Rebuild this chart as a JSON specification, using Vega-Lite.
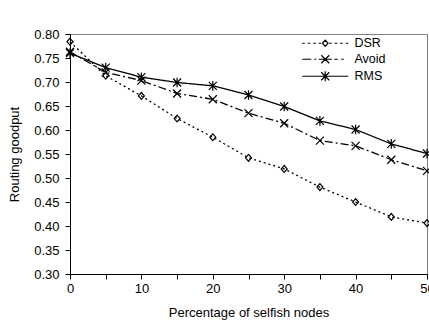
{
  "$schema": "https://vega.github.io/schema/vega-lite/v6.json",
  "width": 357,
  "height": 240,
  "autosize": {"type": "none"},
  "padding": {"left": 70, "top": 34, "right": 2, "bottom": 55},
  "background": "white",
  "config": {
    "view": {"stroke": "#808080", "strokeWidth": 1},
    "font": "Liberation Sans",
    "axis": {
      "domainColor": "black", "tickColor": "black", "labelColor": "black", "titleColor": "black",
      "labelFont": "Liberation Sans", "titleFont": "Liberation Sans",
      "labelFontSize": 13, "titleFontSize": 13, "titleFontWeight": "normal",
      "grid": false, "tickSize": 5, "domainWidth": 1, "tickWidth": 1
    }
  },
  "datasets": {
    "main": [
      {"series": "DSR", "x": 0, "y": 0.784}, {"series": "DSR", "x": 5, "y": 0.713}, {"series": "DSR", "x": 10, "y": 0.671},
      {"series": "DSR", "x": 15, "y": 0.624}, {"series": "DSR", "x": 20, "y": 0.585}, {"series": "DSR", "x": 25, "y": 0.542},
      {"series": "DSR", "x": 30, "y": 0.519}, {"series": "DSR", "x": 35, "y": 0.481}, {"series": "DSR", "x": 40, "y": 0.450},
      {"series": "DSR", "x": 45, "y": 0.419}, {"series": "DSR", "x": 50, "y": 0.406},
      {"series": "Avoid", "x": 0, "y": 0.763}, {"series": "Avoid", "x": 5, "y": 0.720}, {"series": "Avoid", "x": 10, "y": 0.703},
      {"series": "Avoid", "x": 15, "y": 0.676}, {"series": "Avoid", "x": 20, "y": 0.664}, {"series": "Avoid", "x": 25, "y": 0.635},
      {"series": "Avoid", "x": 30, "y": 0.614}, {"series": "Avoid", "x": 35, "y": 0.578}, {"series": "Avoid", "x": 40, "y": 0.567},
      {"series": "Avoid", "x": 45, "y": 0.538}, {"series": "Avoid", "x": 50, "y": 0.515},
      {"series": "RMS", "x": 0, "y": 0.760}, {"series": "RMS", "x": 5, "y": 0.730}, {"series": "RMS", "x": 10, "y": 0.710},
      {"series": "RMS", "x": 15, "y": 0.699}, {"series": "RMS", "x": 20, "y": 0.692}, {"series": "RMS", "x": 25, "y": 0.673},
      {"series": "RMS", "x": 30, "y": 0.649}, {"series": "RMS", "x": 35, "y": 0.619}, {"series": "RMS", "x": 40, "y": 0.601},
      {"series": "RMS", "x": 45, "y": 0.571}, {"series": "RMS", "x": 50, "y": 0.551}
    ],
    "legendkeys": [{"label": "DSR"}, {"label": "Avoid"}, {"label": "RMS"}]
  },
  "data": {"name": "main"},
  "encoding": {
    "x": {"field": "x", "type": "quantitative", "scale": {"domain": [0, 50], "nice": false},
      "axis": {"title": "Percentage of selfish nodes", "values": [0,5,10,15,20,25,30,35,40,45,50],
        "labelExpr": "datum.value % 10 === 0 ? datum.label : ''", "labelPadding": 3, "titlePadding": 11, "labelFlush": false}},
    "y": {"field": "y", "type": "quantitative", "scale": {"domain": [0.3, 0.8], "nice": false, "zero": false},
      "axis": {"title": "Routing goodput", "values": [0.3,0.35,0.4,0.45,0.5,0.55,0.6,0.65,0.7,0.75,0.8],
        "format": ".2f", "labelPadding": 6, "titlePadding": 12}}
  },
  "resolve": {"scale": {"shape": "independent"}, "legend": {"shape": "independent"}},
  "layer": [
    {
      "mark": {"type": "line", "color": "black", "strokeWidth": 1.3},
      "encoding": {
        "strokeDash": {"field": "series", "type": "nominal", "legend": null,
          "scale": {"domain": ["DSR", "Avoid", "RMS"], "range": [[2, 3], [8, 3, 2, 3], [1, 0]]}}
      }
    },
    {
      "mark": {"type": "point", "filled": false, "color": "black", "strokeWidth": 1.2, "size": 64, "opacity": 1},
      "encoding": {
        "shape": {"field": "series", "type": "nominal", "legend": null,
          "scale": {"domain": ["DSR", "Avoid", "RMS"], "range": [
            "M0,-0.85L0.75,0L0,0.85L-0.75,0Z",
            "M-1,-1L1,1M-1,1L1,-1",
            "M-1,-1L1,1M-1,1L1,-1M0,-1.2L0,1.2"
          ]}}
      }
    },
    {
      "data": {"name": "legendkeys"},
      "mark": {"type": "point", "filled": false, "color": "black", "strokeWidth": 1.2, "size": 100, "opacity": 1},
      "encoding": {
        "shape": {"field": "label", "type": "nominal",
          "scale": {"domain": ["DSR", "Avoid", "RMS"], "range": [
            "M-4.6,0L-4.1,0M-3.5,0L-3,0M-2.4,0L-1.9,0M-1.3,0L-0.8,0M0.8,0L1.3,0M1.9,0L2.4,0M3,0L3.5,0M4.1,0L4.6,0M0,-0.64L0.56,0L0,0.64L-0.56,0Z",
            "M-4.6,0L-2.8,0M-2.2,0L-1.8,0M-1.3,0L1.3,0M1.8,0L2.5,0M3.2,0L3.7,0M-0.8,-0.8L0.8,0.8M-0.8,0.8L0.8,-0.8",
            "M-4.6,0L4.6,0M-0.8,-0.8L0.8,0.8M-0.8,0.8L0.8,-0.8M0,-1L0,1"
          ]},
          "legend": {
            "title": null, "orient": "none", "legendX": 231, "legendY": 3, "padding": 0,
            "symbolSize": 100, "symbolOffset": 18, "labelOffset": 23, "rowPadding": 2,
            "labelFont": "Liberation Sans", "labelFontSize": 12.5, "labelColor": "black",
            "symbolStrokeColor": "black", "symbolStrokeWidth": 1.2, "symbolFillColor": "transparent"
          }
        }
      }
    }
  ]
}
